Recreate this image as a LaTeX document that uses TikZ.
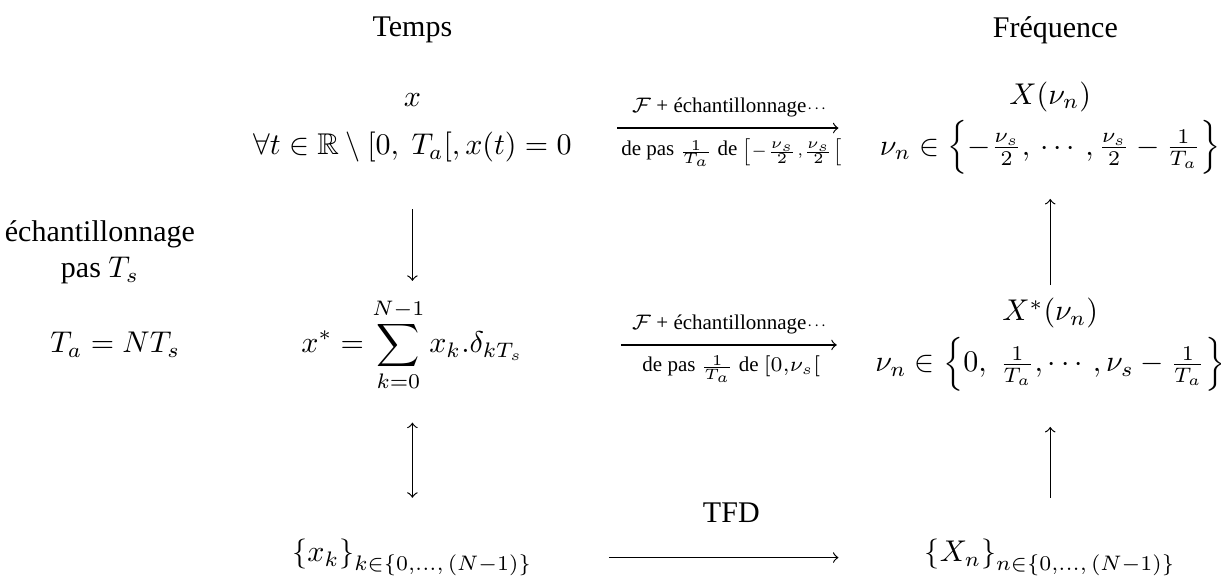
\documentclass[tikz,border=0pt]{standalone}
\usepackage{fontspec}
\setmainfont{Liberation Serif}
\usepackage{amsmath, amssymb}
\usepackage{tikz}

\tikzset{
    lab/.style={font=\scriptsize},
    bloc/.style={align=center},
}

\begin{document}
\begin{tikzpicture}
    \useasboundingbox (0,0) rectangle (14.30,6.76);
    \node (temps) at (4.83,6.41) {Temps};
    \node (freq) at (12.36,6.41) {Fréquence};
    % ligne du haut
    \node[bloc] (x) at (4.83,5.26) {$x$\\[4pt] $\forall t\in\mathbb{R}\setminus[0,\ T_a[, x(t)=0$};
    \node[bloc] (X) at (12.30,5.26) {$X(\nu_n)$\\[2pt] $\nu_n\in\left\{-\frac{\nu_s}{2},\,\cdots,\frac{\nu_s}{2}-\frac{1}{T_a}\right\}$};
    % echantillonnage
    \node[bloc] (ech) at (1.17,3.80) {échantillonnage\\ pas $T_s$};
    \node (Ta) at (1.35,2.72) {$T_a=NT_s$};
    \node (xs) at (4.83,2.72) {$\displaystyle x^*=\sum_{k=0}^{N-1}x_k.\delta_{kT_s}$};
    \node[bloc] (Xs) at (12.30,2.72) {$X^*(\nu_n)$\\[2pt] $\nu_n\in\left\{0,\;\frac{1}{T_a},\cdots,\nu_s-\frac{1}{T_a}\right\}$};
    % TFD
    \node (xk) at (4.83,0.23) {$\left\{x_k\right\}_{k\in\{0,\dots,\,(N-1)\}}$};
    \node (Xk) at (12.30,0.23) {$\left\{X_n\right\}_{n\in\{0,\dots,\,(N-1)\}}$};

    \draw[->, shorten <=2.40cm, shorten >=2.48cm] (x.center) -- node[lab, above] {$\mathcal{F}$ + échantillonnage$\scriptstyle\cdots$}
        node[lab, below] {de pas $\scriptstyle\frac{1}{T_a}$ de $\scriptstyle\left[-\frac{\nu_s}{2},\frac{\nu_s}{2}\right[$} (X.center);
    \draw[->, shorten <=2.44cm, shorten >=2.50cm] (xs.center) -- node[lab, above] {$\mathcal{F}$ + échantillonnage$\scriptstyle\cdots$}
        node[lab, below] {de pas $\scriptstyle\frac{1}{T_a}$ de $[0{,}\nu_s[$} (Xs.center);
    \draw[->, shorten <=2.30cm, shorten >=2.48cm] (xk.center) -- node[above=8pt] {TFD} (Xk.center);

    \draw[->, shorten <=0.95cm, shorten >=0.75cm] (x.center) -- (xs.center);
    \draw[<->, shorten <=0.91cm, shorten >=0.70cm] (xs.center) -- (xk.center);
    \draw[->, shorten <=0.70cm, shorten >=0.83cm] (Xs.center) -- (X.center);
    \draw[->, shorten <=0.70cm, shorten >=0.96cm] (Xk.center) -- (Xs.center);
\end{tikzpicture}
\end{document}
